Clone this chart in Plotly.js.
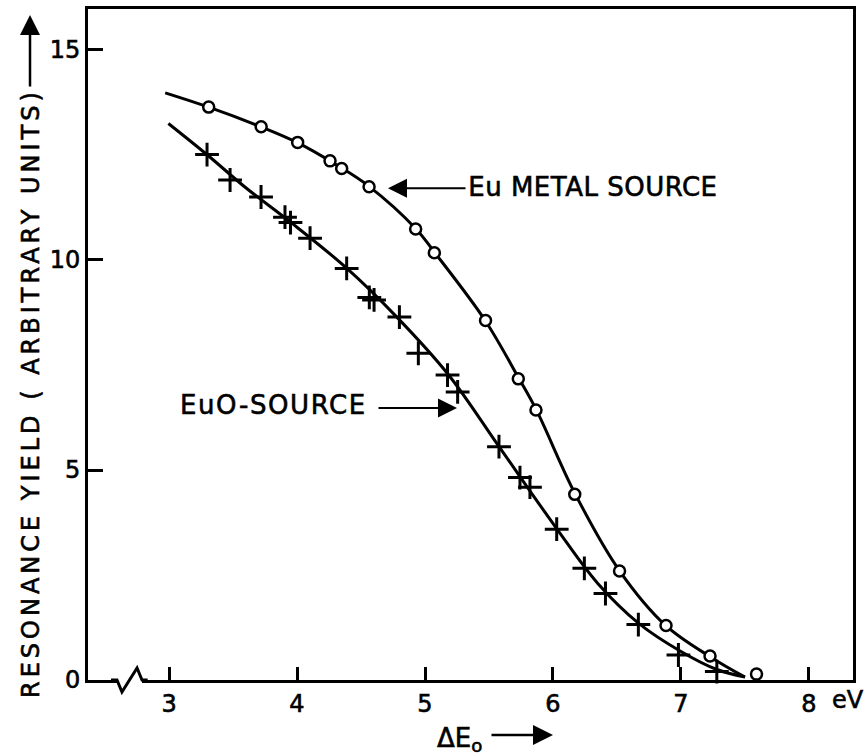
<!DOCTYPE html>
<html>
<head>
<meta charset="utf-8">
<script src="https://cdn.plot.ly/plotly-3.0.1.min.js"></script>
<style>
html,body{margin:0;padding:0;background:#fff;}
#chart{width:866px;height:755px;}
g.annotation[data-index="0"] text{letter-spacing:0.5px;}
g.annotation[data-index="2"] text{letter-spacing:1.6px;}
g.annotation[data-index="4"] text{letter-spacing:4px;}
g.annotation text, .xtick text, .ytick text{stroke:#000;stroke-width:0.6px;}
</style>
</head>
<body>
<div id="chart"></div>
<script>
// Eu metal source: measured points (open circles)
const metalX = [3.31, 3.72, 4.005, 4.258, 4.349, 4.563, 4.927, 5.073, 5.473, 5.729, 5.867, 6.17, 6.52, 6.883, 7.227, 7.59];
const metalY = [13.64, 13.17, 12.80, 12.36, 12.18, 11.745, 10.74, 10.17, 8.56, 7.17, 6.43, 4.42, 2.595, 1.30, 0.57, 0.14];
// Eu metal source: drawn smooth curve
const metalCurveX = [2.97, 3.31, 3.72, 4.0, 4.3, 4.56, 4.93, 5.07, 5.47, 5.73, 5.87, 6.17, 6.52, 6.88, 7.23, 7.5];
const metalCurveY = [13.98, 13.64, 13.17, 12.8, 12.28, 11.76, 10.74, 10.2, 8.56, 7.2, 6.43, 4.45, 2.6, 1.3, 0.55, 0.07];
// EuO source: measured points (crosses)
const euoX = [3.297, 3.477, 3.719, 3.906, 3.949, 4.102, 4.388, 4.565, 4.602, 4.80, 4.948, 5.176, 5.255, 5.578, 5.742, 5.82, 6.029, 6.245, 6.41, 6.667, 6.98, 7.28];
const euoY = [12.51, 11.905, 11.50, 11.02, 10.89, 10.52, 9.80, 9.11, 9.05, 8.64, 7.78, 7.26, 6.86, 5.555, 4.82, 4.59, 3.59, 2.66, 2.06, 1.32, 0.595, 0.20];
// EuO source: drawn smooth curve
const euoCurveX = [2.995, 3.3, 3.6, 3.95, 4.39, 4.78, 5.18, 5.58, 6.03, 6.35, 6.67, 7.0, 7.28, 7.5];
const euoCurveY = [13.25, 12.5, 11.72, 10.9, 9.8, 8.64, 7.28, 5.55, 3.6, 2.3, 1.35, 0.68, 0.25, 0.07];
// Axis ticks
const xTickVals = [3, 4, 5, 6, 7, 8];
const xTickText = ['3', '4', '5', '6', '7', '8'];
const yTickVals = [0, 5, 10, 15];
const yTickText = ['0', '5', '10', '15'];

const FONT = 'DejaVu Sans, Liberation Sans, sans-serif';

const traces = [
  {x: metalCurveX, y: metalCurveY, mode: 'lines', line: {color: '#000', width: 3, shape: 'spline'}, hoverinfo: 'skip', cliponaxis: false},
  {x: euoCurveX, y: euoCurveY, mode: 'lines', line: {color: '#000', width: 3, shape: 'spline'}, hoverinfo: 'skip', cliponaxis: false},
  {x: metalX, y: metalY, mode: 'markers', marker: {symbol: 'circle', size: 11, color: '#fff', line: {color: '#000', width: 2.5}}, cliponaxis: false},
  {x: euoX, y: euoY, mode: 'markers', marker: {symbol: 'cross-thin', size: 17, color: '#000', line: {color: '#000', width: 3}}, cliponaxis: false}
];

const layout = {
  width: 866, height: 755,
  margin: {l: 88, r: 13, t: 9, b: 75},
  paper_bgcolor: '#fff', plot_bgcolor: '#fff',
  showlegend: false,
  font: {family: FONT, color: '#000', size: 24},
  xaxis: {
    range: [2.367, 8.344], showgrid: false, zeroline: false,
    showline: true, linecolor: '#000', linewidth: 3, mirror: true,
    ticks: 'inside', ticklen: 13, tickwidth: 3, tickcolor: '#000',
    tickvals: xTickVals, ticktext: xTickText,
    tickfont: {family: FONT, size: 24, color: '#000'}
  },
  yaxis: {
    range: [0, 15.976], showgrid: false, zeroline: false,
    showline: true, linecolor: '#000', linewidth: 3, mirror: true,
    ticks: 'inside', ticklen: 15, tickwidth: 3, tickcolor: '#000',
    tickvals: yTickVals, ticktext: yTickText,
    tickfont: {family: FONT, size: 24, color: '#000'}
  },
  shapes: [
    {type: 'line', xref: 'paper', yref: 'paper', x0: 0.0379, x1: 0.0706, y0: 0, y1: 0, line: {color: '#fff', width: 7}, layer: 'above'},
    {type: 'path', xref: 'paper', yref: 'paper', path: 'M 0.030 0 L 0.0379 0 L 0.0444 -0.0179 L 0.0641 0.0179 L 0.0706 0 L 0.078 0', line: {color: '#000', width: 3}, layer: 'above'}
  ],
  annotations: [
    {xref: 'x', yref: 'y', x: 6.316, y: 11.74, xanchor: 'center', yanchor: 'middle', text: 'Eu METAL SOURCE', showarrow: false, font: {family: FONT, size: 26, color: '#000'}},
    {xref: 'x', yref: 'y', x: 4.711, y: 11.71, ax: 79, ay: 0, text: '', showarrow: true, arrowhead: 2, arrowsize: 1.9, arrowwidth: 2, arrowcolor: '#000'},
    {xref: 'x', yref: 'y', x: 3.816, y: 6.55, xanchor: 'center', yanchor: 'middle', text: 'EuO-SOURCE', showarrow: false, font: {family: FONT, size: 26, color: '#000'}},
    {xref: 'x', yref: 'y', x: 5.25, y: 6.476, ax: -80, ay: 0, text: '', showarrow: true, arrowhead: 2, arrowsize: 1.9, arrowwidth: 2, arrowcolor: '#000'},
    {xref: 'paper', yref: 'paper', x: -0.0745, y: 0.4277, xanchor: 'center', yanchor: 'middle', textangle: -90, text: 'RESONANCE YIELD ( ARBITRARY UNITS)', showarrow: false, font: {family: FONT, size: 24, color: '#000'}},
    {xref: 'paper', yref: 'paper', x: -0.0758, y: 0.991, ax: 0, ay: 73, text: '', showarrow: true, arrowhead: 2, arrowsize: 1.6, arrowwidth: 2.5, arrowcolor: '#000'},
    {xref: 'x', yref: 'paper', x: 5.08, y: -0.0885, xanchor: 'left', yanchor: 'middle', text: 'ΔE<sub>o</sub>', showarrow: false, font: {family: FONT, size: 26, color: '#000'}},
    {xref: 'x', yref: 'paper', x: 6.0, y: -0.082, ax: -63, ay: 0, text: '', showarrow: true, arrowhead: 2, arrowsize: 1.6, arrowwidth: 2.5, arrowcolor: '#000'},
    {xref: 'x', yref: 'paper', x: 8.305, y: -0.0298, xanchor: 'center', yanchor: 'middle', text: 'eV', showarrow: false, font: {family: FONT, size: 24, color: '#000'}}
  ]
};

Plotly.newPlot('chart', traces, layout, {displayModeBar: false, staticPlot: true});
</script>
</body>
</html>
